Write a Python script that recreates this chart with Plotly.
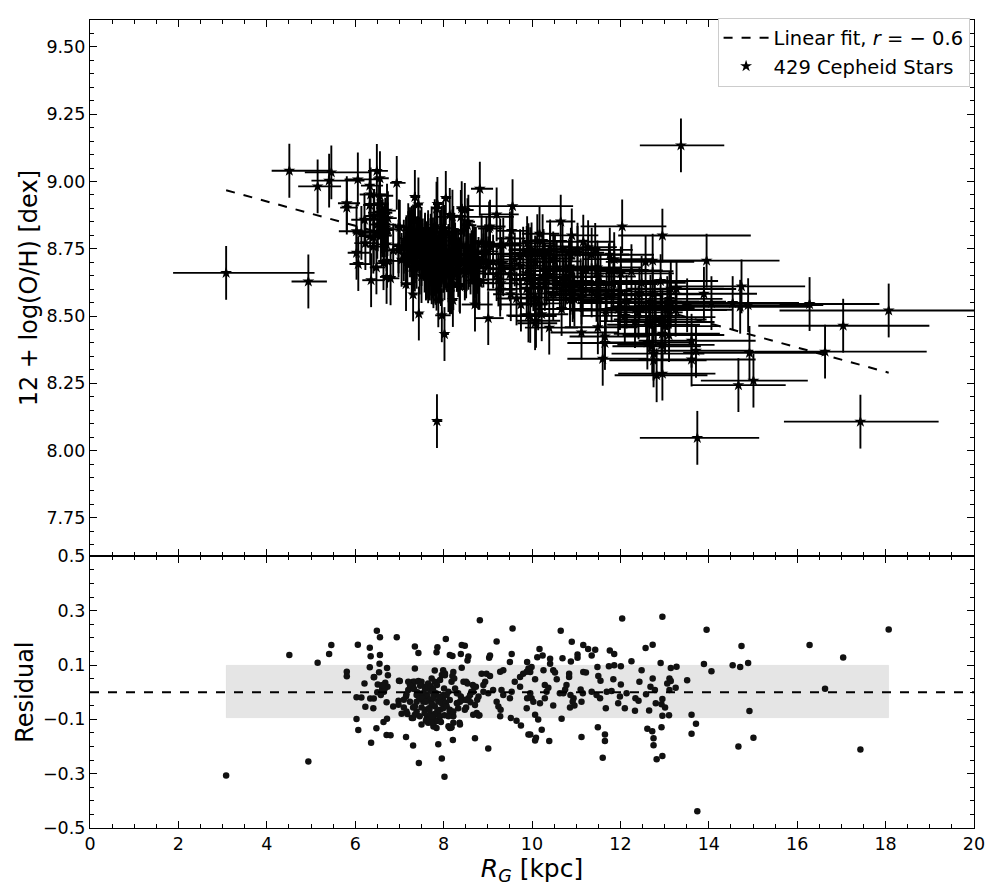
import plotly.graph_objects as go
from plotly.subplots import make_subplots

# ---------------- data ----------------
# Galactocentric radius of each Cepheid [kpc]
r_g = [
    # R < 6.9
    3.08, 4.51, 4.94, 5.15, 5.41, 5.46, 5.81, 5.81, 6.06, 6.03,
    6.07, 6.03, 6.14, 6.21, 6.23, 6.33, 6.35, 6.33, 6.36, 6.34,
    6.42, 6.41, 6.42, 6.48, 6.49, 6.56, 6.56, 6.55, 6.54, 6.51,
    6.50, 6.58, 6.60, 6.68, 6.64, 6.71, 6.71, 6.72, 6.72, 6.74,
    6.43, 6.61, 6.65, 6.73, 6.80, 6.86, 6.67, 6.62,
    # 6.9 - 8.05
    6.94, 6.99, 6.98, 7.05, 7.10, 7.15, 7.31, 7.35, 7.43, 7.35,
    7.44, 7.15, 7.20, 7.31, 7.28, 7.39, 7.50, 7.58, 7.65, 7.50,
    7.62, 7.39, 7.54, 7.24, 7.45, 7.62, 7.31, 7.18, 7.50, 7.01,
    7.20, 7.28, 7.35, 7.43, 7.24, 7.31, 7.47, 7.58, 7.65, 7.16,
    7.10, 7.39, 7.45, 7.53, 7.62, 7.69, 7.77, 7.73, 7.80, 7.88,
    7.58, 7.35, 6.98, 7.31, 7.62, 7.69, 7.77, 7.83, 7.90, 7.60,
    7.65, 7.77, 7.88, 7.92, 7.99, 7.96, 7.99, 7.86, 7.84, 7.80,
    7.73, 7.80, 7.99, 7.92, 7.73, 7.77, 7.99, 7.81, 7.77, 7.84,
    7.69, 7.73, 7.88, 7.96, 7.85, 7.24, 7.33, 7.41, 7.52, 7.60,
    7.67, 7.16, 7.35, 7.46, 7.57, 7.68, 7.70, 7.71, 7.76, 7.83,
    7.90, 7.95, 7.86, 7.79, 7.94, 7.74, 7.85, 7.92, 8.02, 8.05,
    # 8.0 - 9.0
    8.07, 8.01, 8.07, 8.14, 8.03, 8.20, 8.18, 8.26, 8.30, 8.39,
    8.45, 8.31, 8.33, 8.18, 8.22, 8.54, 8.51, 8.66, 8.73, 8.67,
    8.79, 8.76, 8.56, 8.61, 8.75, 8.81, 8.51, 8.36, 8.11, 8.16,
    8.82, 8.05, 8.41, 8.48, 8.14, 8.20, 8.39, 8.56, 8.54, 8.41,
    8.22, 8.24, 8.03, 8.45, 8.86, 8.97, 8.94, 8.90, 8.69, 8.90,
    8.33, 8.37, 8.30, 8.52, 8.60, 8.63, 8.48, 8.67, 8.79, 8.71,
    8.14, 8.22, 8.11, 8.11, 8.14, 8.22, 8.18, 8.37, 8.14, 8.21,
    8.71, 8.02,
    # 9.0 - 10.0
    9.56, 9.05, 9.03, 9.20, 9.54, 9.50, 9.89, 9.05, 9.28, 9.35,
    9.61, 9.73, 9.80, 9.88, 9.01, 9.12, 9.31, 9.35, 9.54, 9.50,
    9.73, 9.89, 9.88, 9.20, 9.24, 9.29, 9.28, 9.52, 9.65, 9.75,
    9.92, 9.01, 9.99, 9.96, 9.96, 9.99, 9.96, 9.92,
    # 10.0 - 12.2
    12.04, 10.65, 10.90, 11.16, 11.27, 11.43, 11.76, 11.86, 10.17, 10.12,
    10.24, 10.41, 10.41, 10.69, 10.88, 11.03, 11.03, 11.35, 10.26, 10.48,
    10.52, 10.84, 10.84, 11.16, 11.22, 11.48, 11.74, 11.86, 12.01, 11.50,
    11.55, 10.07, 10.56, 11.84, 12.01, 10.29, 10.37, 10.33, 10.78, 10.75,
    11.10, 11.15, 11.35, 11.46, 11.54, 11.69, 11.80, 12.14, 10.03, 10.18,
    10.29, 10.63, 10.71, 10.87, 10.94, 10.92, 10.48, 10.96, 10.86, 11.12,
    11.67, 11.99, 11.95, 12.10, 10.07, 10.14, 10.67, 10.22, 10.09, 10.07,
    10.39, 11.12, 11.49, 11.65, 11.65, 11.60,
    # 12.2 - 14.1
    12.95, 13.95, 12.57, 12.73, 12.25, 12.91, 13.89, 13.14, 13.27, 12.48,
    14.06, 12.73, 12.43, 13.11, 13.14, 13.06, 13.51, 12.68, 12.78, 13.11,
    13.25, 12.58, 12.34, 12.41, 12.95, 12.80, 12.93, 13.01, 12.33, 12.65,
    12.95, 13.10, 13.61, 13.71, 12.61, 12.72, 12.93, 12.75, 12.75, 13.61,
    12.82, 12.95, 13.74, 13.37,
    # > 14.1
    14.54, 14.71, 14.74, 14.89, 14.92, 14.67, 15.01, 16.28, 16.63, 17.04,
    17.43, 18.07,
]

# Residual from the linear fit [dex] (lower panel)
resid = [
    -0.307, 0.137, -0.255, 0.108, 0.141, 0.174, 0.075, 0.059, 0.175, -0.099,
    -0.139, -0.019, -0.020, 0.032, -0.054, 0.164, 0.132, 0.092, -0.186, -0.023,
    -0.023, -0.059, 0.055, -0.133, 0.226, 0.202, 0.137, 0.105, 0.073, 0.028,
    0.000, -0.010, 0.025, 0.035, -0.110, -0.158, -0.037, 0.089, -0.098, 0.062,
    0.056, 0.011, 0.002, 0.020, -0.159, -0.053, 0.014, 0.026,

    0.202, 0.042, -0.032, -0.079, -0.056, -0.165, -0.196, 0.168, 0.144, 0.087,
    -0.261, -0.016, 0.008, 0.038, -0.095, -0.071, 0.038, 0.020, 0.032, -0.119,
    -0.095, -0.035, -0.035, -0.035, -0.010, -0.010, -0.056, -0.080, -0.056, 0.041,
    0.038, 0.032, 0.038, 0.041, 0.014, 0.020, 0.024, 0.012, 0.017, -0.008,
    -0.028, -0.010, -0.025, -0.004, -0.016, -0.028, -0.010, -0.040, -0.052, -0.034,
    -0.065, -0.052, -0.046, -0.095, -0.101, -0.083, -0.095, -0.107, -0.101, -0.105,
    -0.113, -0.113, -0.083, -0.065, -0.028, 0.063, 0.081, 0.165, 0.147, 0.080,
    0.050, 0.038, -0.059, -0.089, -0.047, -0.022, -0.010, -0.107, -0.126, -0.132,
    -0.101, -0.113, -0.192, -0.244, -0.642, 0.025, 0.012, 0.000, -0.022, -0.035,
    -0.059, -0.071, -0.083, -0.089, -0.077, -0.064, 0.005, 0.022, 0.010, -0.004,
    -0.018, -0.040, -0.068, -0.080, -0.110, -0.090, 0.026, 0.045, -0.085, -0.040,

    -0.010, 0.014, -0.052, -0.065, 0.069, 0.060, 0.038, 0.014, -0.004, -0.016,
    -0.028, -0.040, -0.059, -0.077, -0.089, 0.032, 0.038, 0.026, 0.020, 0.002,
    -0.016, -0.028, -0.022, -0.037, -0.077, -0.085, -0.056, -0.113, -0.125, -0.131,
    0.265, 0.196, 0.174, 0.171, 0.137, 0.133, 0.141, 0.131, 0.117, 0.090,
    0.074, 0.050, 0.062, 0.038, 0.068, 0.068, 0.038, 0.026, 0.020, 0.002,
    -0.004, -0.035, -0.041, -0.029, -0.010, 0.002, -0.065, -0.083, -0.086, -0.047,
    -0.071, -0.071, -0.089, 0.002, -0.029, -0.113, -0.129, -0.119, -0.132, -0.176,
    -0.170, -0.311,

    0.234, 0.135, 0.127, 0.187, 0.141, 0.111, 0.111, 0.060, 0.075, 0.081,
    0.038, 0.056, 0.068, 0.075, -0.004, 0.008, 0.008, -0.010, 0.002, -0.022,
    0.020, -0.022, -0.059, -0.035, -0.053, -0.065, -0.089, -0.095, -0.105, -0.123,
    -0.156, -0.207, 0.093, 0.074, -0.004, -0.022, -0.156, 0.087,

    0.271, 0.226, 0.186, 0.174, 0.159, 0.156, 0.153, 0.141, 0.159, 0.129,
    0.135, 0.123, 0.105, 0.125, 0.113, 0.139, 0.127, 0.135, 0.081, 0.081,
    0.072, 0.068, 0.056, 0.074, 0.072, 0.093, 0.095, 0.099, 0.095, 0.060,
    0.042, 0.048, 0.048, 0.048, 0.028, 0.026, 0.016, 0.002, 0.026, 0.010,
    0.010, -0.004, 0.002, -0.010, -0.022, 0.002, 0.004, -0.004, -0.035, -0.041,
    -0.022, -0.004, -0.004, -0.010, -0.022, -0.035, -0.049, -0.049, -0.056, -0.035,
    -0.059, -0.016, -0.041, -0.059, -0.083, -0.101, -0.098, -0.138, -0.168, -0.178,
    -0.180, -0.165, -0.129, -0.156, -0.180, -0.241,

    0.278, 0.230, 0.163, 0.175, 0.114, 0.107, 0.104, 0.089, 0.094, 0.081,
    0.077, 0.050, 0.038, 0.050, 0.041, 0.032, 0.044, 0.020, 0.008, 0.008,
    0.016, -0.008, -0.022, -0.032, -0.025, -0.041, -0.044, -0.056, -0.068, -0.067,
    -0.087, -0.085, -0.083, -0.116, -0.135, -0.144, -0.129, -0.170, -0.195, -0.153,
    -0.247, -0.235, -0.438, 0.632,

    0.099, 0.093, 0.170, 0.107, -0.069, -0.200, -0.168, 0.174, 0.013, 0.128,
    -0.211, 0.231,
]

# Radius uncertainty, inner (minus) side [kpc]
r_err_lo = [
    1.20, 0.40, 0.38, 0.44, 0.40, 0.60, 0.20, 0.15, 0.30, 0.20,
    0.20, 0.40, 0.20, 0.30, 0.25, 0.20, 0.25, 0.15, 0.20, 0.25,
    0.20, 0.15, 0.20, 0.15, 0.20, 0.15, 0.20, 0.15, 0.25, 0.20,
    0.15, 0.20, 0.15, 0.20, 0.15, 0.15, 0.20, 0.15, 0.20, 0.15,
    0.20, 0.15, 0.10, 0.15, 0.15, 0.20, 0.15, 0.10,

    0.15, 0.10, 0.12, 0.10, 0.08, 0.10, 0.08, 0.10, 0.08, 0.10,
    0.08, 0.10, 0.12, 0.08, 0.10, 0.06, 0.08, 0.06, 0.08, 0.06,
    0.06, 0.08, 0.06, 0.10, 0.06, 0.05, 0.08, 0.10, 0.06, 0.12,
    0.10, 0.08, 0.08, 0.06, 0.10, 0.08, 0.06, 0.05, 0.05, 0.10,
    0.10, 0.06, 0.06, 0.05, 0.05, 0.05, 0.08, 0.05, 0.06, 0.08,
    0.06, 0.08, 0.12, 0.08, 0.05, 0.05, 0.06, 0.08, 0.10, 0.05,
    0.05, 0.06, 0.10, 0.12, 0.15, 0.12, 0.15, 0.10, 0.10, 0.08,
    0.06, 0.08, 0.15, 0.12, 0.05, 0.06, 0.15, 0.08, 0.06, 0.10,
    0.05, 0.05, 0.10, 0.15, 0.10, 0.08, 0.08, 0.06, 0.06, 0.05,
    0.05, 0.10, 0.08, 0.06, 0.05, 0.05, 0.05, 0.05, 0.06, 0.08,
    0.10, 0.12, 0.08, 0.06, 0.10, 0.05, 0.08, 0.10, 0.15, 0.15,

    0.06, 0.05, 0.08, 0.06, 0.10, 0.08, 0.06, 0.10, 0.08, 0.10,
    0.12, 0.08, 0.10, 0.06, 0.08, 0.15, 0.12, 0.20, 0.15, 0.20,
    0.25, 0.20, 0.15, 0.15, 0.20, 0.25, 0.12, 0.10, 0.06, 0.08,
    0.20, 0.10, 0.12, 0.15, 0.06, 0.08, 0.60, 0.12, 0.15, 0.10,
    0.08, 0.10, 0.06, 0.12, 0.25, 0.30, 0.25, 0.80, 0.20, 0.25,
    0.10, 0.12, 0.10, 0.15, 0.15, 0.20, 0.60, 0.20, 0.25, 0.20,
    0.06, 0.08, 0.05, 0.06, 0.06, 0.08, 0.08, 0.10, 0.06, 0.08,
    0.30, 0.08,

    1.00, 0.30, 0.25, 0.40, 0.35, 0.30, 0.50, 0.30, 0.40, 0.35,
    0.40, 0.45, 0.50, 0.40, 0.25, 0.30, 0.35, 0.30, 0.80, 0.35,
    0.45, 0.40, 0.60, 0.30, 0.30, 0.35, 0.30, 0.40, 0.45, 0.50,
    0.50, 0.30, 0.50, 0.45, 0.40, 0.50, 0.50, 0.45,

    0.94, 0.33, 0.50, 0.60, 0.55, 0.70, 0.80, 0.70, 0.40, 0.35,
    0.45, 0.40, 0.50, 0.55, 0.60, 0.65, 0.50, 0.70, 0.45, 0.40,
    0.50, 0.60, 0.55, 0.70, 0.65, 0.80, 0.75, 0.90, 1.00, 0.70,
    0.75, 0.40, 0.50, 0.85, 0.90, 0.45, 0.50, 0.45, 0.60, 0.55,
    0.65, 0.70, 0.75, 0.70, 0.80, 0.85, 0.90, 1.00, 0.40, 0.45,
    0.50, 0.55, 0.60, 0.65, 0.60, 0.55, 0.50, 0.70, 0.60, 0.75,
    0.80, 0.95, 0.90, 1.00, 0.40, 0.45, 0.60, 0.50, 0.45, 0.40,
    0.55, 0.70, 0.75, 0.80, 0.85, 0.80,

    1.00, 1.50, 0.90, 1.00, 0.80, 1.10, 1.00, 1.00, 1.10, 0.85,
    1.20, 0.95, 0.80, 1.00, 1.05, 0.95, 1.20, 0.90, 1.00, 1.10,
    1.10, 0.90, 0.80, 0.85, 1.00, 0.95, 1.00, 1.05, 0.80, 0.95,
    1.10, 1.05, 1.20, 1.10, 0.85, 0.90, 1.00, 0.95, 1.00, 1.20,
    0.95, 1.00, 1.30, 0.93,

    1.30, 1.40, 1.60, 1.50, 1.50, 1.06, 1.19, 0.68, 1.60, 1.92,
    1.73, 2.47,
]

# Radius uncertainty, outer (plus) side [kpc]
r_err_hi = [
    2.00, 0.90, 0.42, 0.53, 0.80, 0.90, 0.30, 0.25, 0.50, 0.30,
    0.30, 0.60, 0.30, 0.40, 0.30, 0.30, 0.35, 0.20, 0.30, 0.30,
    0.25, 0.20, 0.30, 0.20, 0.25, 0.20, 0.30, 0.20, 0.30, 0.25,
    0.20, 0.25, 0.20, 0.25, 0.20, 0.20, 0.25, 0.20, 0.25, 0.20,
    0.25, 0.20, 0.15, 0.20, 0.20, 0.25, 0.20, 0.15,

    0.20, 0.12, 0.15, 0.12, 0.10, 0.12, 0.10, 0.12, 0.10, 0.12,
    0.10, 0.12, 0.15, 0.10, 0.12, 0.08, 0.10, 0.08, 0.10, 0.08,
    0.08, 0.10, 0.08, 0.12, 0.08, 0.06, 0.10, 0.12, 0.08, 0.15,
    0.12, 0.10, 0.10, 0.08, 0.12, 0.10, 0.08, 0.06, 0.06, 0.12,
    0.12, 0.08, 0.08, 0.06, 0.06, 0.06, 0.10, 0.06, 0.08, 0.10,
    0.08, 0.10, 0.15, 0.10, 0.06, 0.06, 0.08, 0.10, 0.12, 0.06,
    0.06, 0.08, 0.12, 0.15, 0.20, 0.15, 0.20, 0.12, 0.12, 0.10,
    0.08, 0.10, 0.20, 0.15, 0.06, 0.08, 0.20, 0.10, 0.08, 0.12,
    0.06, 0.06, 0.12, 0.20, 0.12, 0.10, 0.10, 0.08, 0.08, 0.06,
    0.06, 0.12, 0.10, 0.08, 0.06, 0.06, 0.06, 0.06, 0.08, 0.10,
    0.12, 0.15, 0.10, 0.08, 0.12, 0.06, 0.10, 0.12, 0.20, 0.20,

    0.08, 0.06, 0.10, 0.08, 0.12, 0.10, 0.08, 0.12, 0.10, 0.12,
    0.15, 0.10, 0.12, 0.08, 0.10, 0.20, 0.15, 0.25, 0.20, 0.25,
    0.30, 0.25, 0.20, 0.20, 0.25, 0.30, 0.15, 0.12, 0.08, 0.10,
    0.30, 0.12, 0.15, 0.20, 0.08, 0.10, 1.20, 0.15, 0.20, 0.12,
    0.10, 0.12, 0.08, 0.15, 0.30, 0.40, 0.30, 1.00, 0.25, 0.30,
    0.12, 0.15, 0.12, 0.20, 0.20, 0.25, 1.10, 0.25, 0.30, 0.25,
    0.08, 0.10, 0.06, 0.08, 0.08, 0.10, 0.10, 0.12, 0.08, 0.10,
    0.40, 0.10,

    1.37, 0.35, 0.30, 0.50, 0.40, 0.35, 0.60, 0.35, 0.50, 0.40,
    0.50, 0.55, 0.60, 0.50, 0.30, 0.35, 0.40, 0.35, 1.00, 0.40,
    0.55, 0.50, 0.70, 0.35, 0.35, 0.40, 0.35, 0.50, 0.55, 0.60,
    0.60, 0.35, 0.60, 0.55, 0.50, 0.60, 0.60, 0.55,

    1.00, 0.33, 0.60, 0.70, 0.65, 0.85, 1.00, 0.85, 0.45, 0.40,
    0.55, 0.50, 0.60, 0.65, 0.70, 0.80, 0.60, 0.85, 0.55, 0.50,
    0.60, 0.70, 0.65, 0.85, 0.80, 1.00, 0.90, 1.10, 1.20, 0.85,
    0.90, 0.45, 0.60, 1.00, 1.10, 0.55, 0.60, 0.55, 0.70, 0.65,
    0.80, 0.85, 0.90, 0.85, 1.00, 1.05, 1.10, 1.25, 0.50, 0.55,
    0.60, 0.65, 0.70, 0.80, 0.75, 0.65, 0.60, 0.85, 0.70, 0.90,
    1.00, 1.15, 1.10, 1.25, 0.50, 0.55, 0.70, 0.60, 0.55, 0.50,
    0.65, 0.85, 0.90, 1.00, 1.05, 1.00,

    2.00, 1.65, 1.10, 1.20, 0.95, 1.30, 1.20, 1.20, 1.35, 1.00,
    1.45, 1.15, 0.95, 1.20, 1.25, 1.15, 1.45, 1.10, 1.20, 1.30,
    1.30, 1.10, 0.95, 1.00, 1.20, 1.15, 1.20, 1.25, 0.95, 1.15,
    1.30, 1.25, 1.45, 1.30, 1.00, 1.10, 1.20, 1.15, 1.20, 1.45,
    1.15, 1.20, 1.40, 0.98,

    1.50, 1.60, 1.44, 1.70, 1.70, 1.07, 1.23, 1.58, 2.30, 1.95,
    1.77, 2.50,
]

# Abundance uncertainty [dex]
oh_err = 0.10

# Linear fit: 12+log(O/H) = a + b * R_G
fit_intercept = 9.1067
fit_slope = -0.04522

# Grey 1-sigma band in the residual panel [dex]
band_lo, band_hi = -0.094, 0.099

legend_fit = "Linear fit, <i>r</i> = − 0.6"
legend_stars = "429 Cepheid Stars"
x_title = "<i>R</i><sub><i>G</i></sub> [kpc]"
y1_title = "12 + log(O/H) [dex]"
y2_title = "Residual"

n = len(r_g)
if not (len(resid) == n and len(r_err_lo) == n and len(r_err_hi) == n):
    raise SystemExit(f"length mismatch {n} {len(resid)} {len(r_err_lo)} {len(r_err_hi)}")

# abundances: fit value + residual
oh = [fit_intercept + fit_slope * r + d for r, d in zip(r_g, resid)]
r_min, r_max = min(r_g), max(r_g)
fit_x = [r_min, r_max]
fit_y = [fit_intercept + fit_slope * x for x in fit_x]

# ---------------- figure ----------------
FONT = "DejaVu Sans"
fig = make_subplots(rows=2, cols=1, shared_xaxes=True, vertical_spacing=0,
                    row_heights=[543, 275])

fig.add_trace(go.Scatter(
    x=r_g, y=oh, mode="markers", name=legend_stars, legendrank=2,
    marker=dict(symbol="star", size=9, color="black"),
    error_x=dict(type="data", symmetric=False, array=r_err_hi, arrayminus=r_err_lo,
                 color="black", thickness=1.9, width=0),
    error_y=dict(type="constant", value=oh_err, color="black", thickness=1.9, width=0),
), row=1, col=1)

fig.add_trace(go.Scatter(
    x=fit_x, y=fit_y, mode="lines", name=legend_fit, legendrank=1,
    line=dict(color="black", width=2, dash="dash"),
), row=1, col=1)

fig.add_trace(go.Scatter(
    x=r_g, y=resid, mode="markers", showlegend=False,
    marker=dict(symbol="circle", size=6.5, color="#111111"),
), row=2, col=1)

# band and zero line in residual panel
fig.add_shape(type="rect", xref="x2", yref="y2", x0=r_min, x1=r_max, y0=band_lo, y1=band_hi,
              fillcolor="rgba(0,0,0,0.10)", line=dict(color="rgba(0,0,0,0.04)", width=1),
              layer="below")
fig.add_shape(type="line", xref="x2 domain", yref="y2", x0=0, x1=1, y0=0, y1=0,
              line=dict(color="black", width=2, dash="dash"), layer="above")

axis_common = dict(showline=True, linecolor="black", linewidth=1.2, mirror="allticks",
                   ticks="inside", ticklen=7, tickwidth=1, tickcolor="black",
                   showgrid=False, zeroline=False,
                   tickfont=dict(family=FONT, size=17.5, color="black"))

fig.update_xaxes(range=[0, 20], tick0=0, dtick=2,
                 minor=dict(ticks="inside", dtick=0.5, tick0=0, ticklen=4, tickcolor="black"),
                 **axis_common)
fig.update_xaxes(showticklabels=False, row=1, col=1)
fig.update_xaxes(title=dict(text=x_title, font=dict(family=FONT, size=25, color="black"),
                            standoff=2), row=2, col=1)

fig.update_yaxes(range=[7.607, 9.6], tick0=7.75, dtick=0.25, tickformat=".2f",
                 minor=dict(ticks="inside", dtick=0.05, tick0=7.75, ticklen=4, tickcolor="black"),
                 title=dict(text=y1_title, font=dict(family=FONT, size=24, color="black"),
                            standoff=2),
                 row=1, col=1, **axis_common)
fig.update_yaxes(range=[-0.5, 0.5], tick0=-0.5, dtick=0.2, tickformat=".1f",
                 minor=dict(ticks="inside", dtick=0.05, tick0=-0.5, ticklen=4, tickcolor="black"),
                 title=dict(text=y2_title, font=dict(family=FONT, size=24, color="black"),
                            standoff=2),
                 row=2, col=1, **axis_common)

# the page adds an 8 px body margin, so the figure is sized to fit inside it
fig.update_layout(
    width=988, height=884,
    margin=dict(l=82, r=22, t=2, b=64),
    paper_bgcolor="white", plot_bgcolor="white",
    font=dict(family=FONT, size=17.5, color="black"),
    legend=dict(x=0.995, y=1.003, xanchor="right", yanchor="top",
                bgcolor="white", bordercolor="#cccccc", borderwidth=1,
                font=dict(family=FONT, size=19.5, color="black"),
                itemwidth=45, tracegroupgap=4),
)

fig.write_html("out.html")
